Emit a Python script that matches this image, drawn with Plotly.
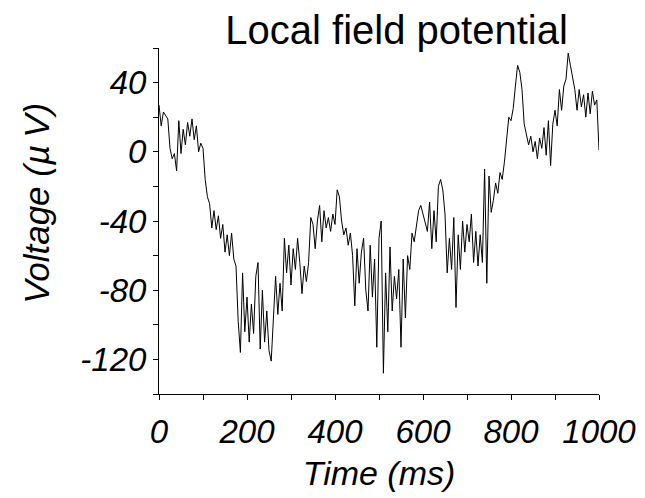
import plotly.graph_objects as go

# Time axis (ms), sampled every 5 ms
time_ms = list(range(0, 1001, 5))

# Voltage (µV)
voltage_uv = [
    27, 15, 23, 21, 19, 2, -4, -1, -11, 18,
    -1, 13, 4, 17, 9, 19, 7, 15, 0, 5,
    2, -16, -26, -30, -44, -34, -45, -37, -50, -42,
    -58, -48, -60, -47, -62, -66, -98, -116, -70, -104,
    -84, -110, -88, -105, -72, -64, -114, -80, -110, -92,
    -115, -121, -100, -72, -94, -76, -92, -50, -70, -54,
    -77, -56, -68, -50, -64, -82, -66, -75, -64, -38,
    -42, -56, -40, -31, -52, -34, -44, -38, -46, -36,
    -42, -22, -26, -40, -48, -44, -54, -47, -60, -89,
    -56, -76, -58, -50, -80, -92, -54, -84, -62, -113,
    -50, -40, -128, -70, -104, -55, -92, -72, -85, -68,
    -113, -62, -96, -60, -68, -47, -52, -44, -34, -31,
    -36, -40, -46, -29, -56, -34, -52, -20, -16, -22,
    -36, -70, -50, -68, -38, -90, -48, -68, -40, -58,
    -42, -52, -36, -64, -46, -66, -48, -64, -10, -76,
    -14, -35, -28, -18, -24, -12, -16, -6, 8, 20,
    18, 25, 38, 50, 46, 36, 16, 10, 4, 9,
    0, 6, -4, 8, 2, 14, -2, 18, -8, 16,
    24, 15, 36, 24, 38, 42, 57, 50, 44, 36,
    24, 36, 26, 33, 20, 34, 22, 35, 27, 30,
    1,
]

x_tick_vals = [0, 100, 200, 300, 400, 500, 600, 700, 800, 900, 1000]
x_tick_text = ["0", "", "200", "", "400", "", "600", "", "800", "", "1000"]
y_tick_vals = [-140, -120, -100, -80, -60, -40, -20, 0, 20, 40, 60]
y_tick_text = ["", "-120", "", "-80", "", "-40", "", "0", "", "40", ""]

title_text = "Local field potential"
x_title = "Time (ms)"
y_title = "Voltage (\u00b5\u2009V)"

FONT = "Liberation Sans, Arial, Helvetica, sans-serif"

fig = go.Figure()
fig.add_trace(go.Scatter(
    x=time_ms, y=voltage_uv, mode="lines",
    line=dict(color="black", width=1),
    showlegend=False, hoverinfo="skip",
))

axis_common = dict(
    showline=True, linecolor="black", linewidth=1,
    ticks="outside", ticklen=5, tickcolor="black", tickwidth=1,
    showgrid=False, zeroline=False, mirror=False, automargin=False,
    tickfont=dict(family=FONT, size=33, color="black", style="italic"),
)

# page body has an 8 px margin, so the figure is 8 px smaller and shifted
fig.update_layout(
    width=637, height=490,
    margin=dict(l=151, r=46, t=40, b=104),
    paper_bgcolor="white", plot_bgcolor="white",
    title=dict(
        text=title_text, x=0.54, xref="paper", xanchor="center",
        y=0.955, yref="container", yanchor="middle",
        font=dict(family=FONT, size=40, color="black"),
    ),
    xaxis=dict(
        range=[0, 1000], tickmode="array", tickvals=x_tick_vals, ticktext=x_tick_text,
        ticklabelstandoff=3,
        title=dict(text=x_title, standoff=12,
                   font=dict(family=FONT, size=34, color="black", style="italic")),
        **axis_common,
    ),
    yaxis=dict(
        range=[-140, 60], tickmode="array", tickvals=y_tick_vals, ticktext=y_tick_text,
        **axis_common,
    ),
    annotations=[dict(
        text=y_title, textangle=-90, xref="paper", yref="paper",
        x=-0.277, y=0.55, xanchor="center", yanchor="middle", showarrow=False,
        font=dict(family=FONT, size=35, color="black", style="italic"),
    )],
)

fig.write_html("out.html")
